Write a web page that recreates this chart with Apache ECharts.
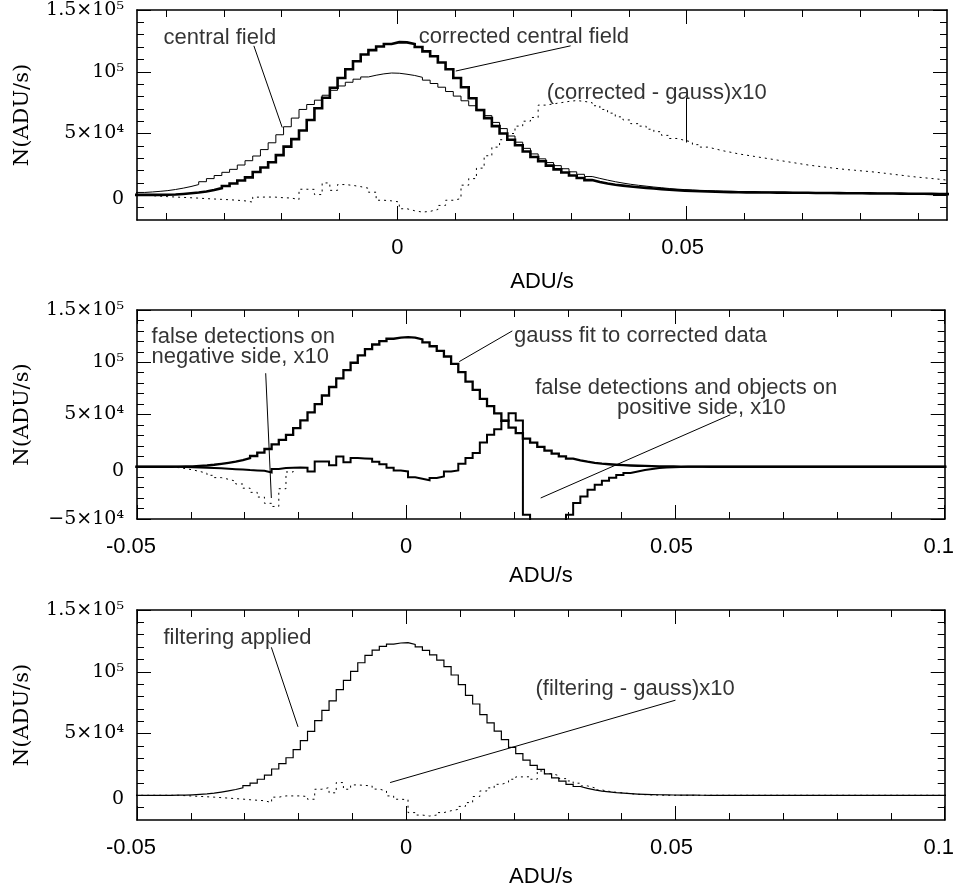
<!DOCTYPE html>
<html>
<head>
<meta charset="utf-8">
<script src="https://cdn.jsdelivr.net/npm/echarts@6/dist/echarts.min.js"></script>
<style>
html,body{margin:0;padding:0;background:#ffffff;}
#chart{width:957px;height:894px;}
</style>
</head>
<body>
<div id="chart"></div>
<script>
// ---------- histogram binning (105 bins of width 0.14/105 over -0.045..0.095, extended by 4 bins left) ----------
const binWidth = 0.14 / 105;
const binStart = -0.045 - 4 * binWidth;

// ---------- panel 1 : central field ----------
const centralField = [
  2300, 2300, 2300, 2300, 2300, 2700, 3200, 3800, 4700, 5800,
  7100, 8700, 11000, 13500, 16000, 18600, 21000, 24500, 28000, 31800,
  37000, 42500, 49000, 55500, 62500, 69500, 73500, 77000, 81000, 85000,
  88500, 91500, 94000, 95800, 97200, 98300, 99000, 98800, 98000, 97000,
  95500, 93200, 90500, 87500, 84000, 80300, 76500, 72500, 68500, 64500,
  59000, 54000, 48000, 43000, 38000, 33500, 29500, 26500, 24000, 21500,
  19000, 17000, 15200, 13700, 12300, 11000, 9900, 8900, 8100, 7400,
  6700, 6100, 5500, 5000, 4600, 4300, 4000, 3800, 3600, 3400,
  3200, 3050, 2900, 2800, 2700, 2600, 2500, 2400, 2300, 2250,
  2200, 2150, 2100, 2050, 2000, 1950, 1900, 1850, 1800, 1750,
  1700, 1650, 1600, 1500, 1450, 1400, 1300, 1200, 1100, 1000,
  900, 850, 800
];
const correctedCentralField = [
  300, 300, 300, 300, 300, 300, 350, 450, 700, 1100,
  1600, 2200, 3000, 4300, 5800, 7500, 9500, 12000, 14500, 18800,
  22500, 26800, 32500, 39400, 45500, 52500, 61000, 70500, 79000, 87000,
  95000, 102000, 108500, 114000, 117500, 120500, 122500, 124000, 123800, 122500,
  120000, 116500, 112500, 107500, 102000, 95000, 87500, 78500, 69000, 62500,
  56000, 50000, 45000, 40500, 35500, 31000, 27500, 24000, 21000, 18500,
  16000, 14000, 12300, 10800, 9600, 8600, 7800, 7100, 6500, 6000,
  5500, 5000, 4500, 4100, 3800, 3500, 3300, 3100, 2900, 2700,
  2600, 2500, 2400, 2350, 2300, 2250, 2200, 2150, 2100, 2050,
  2000, 1900, 1850, 1800, 1750, 1700, 1650, 1600, 1550, 1500,
  1450, 1400, 1350, 1300, 1250, 1200, 1150, 1100, 1000, 900,
  850, 800, 800
];
const correctedMinusGaussX10 = [
  0, 0, 0, 0, 0, -300, -700, -1100, -1400, -1700,
  -2000, -2300, -2700, -3000, -3300, -3600, -4000, -4500, -5500, -1500,
  -1400, -1500, -2000, -2200, -3500, 4900, 4800, 600, 10000, 4000,
  8700, 8000, 7000, 5700, 2500, -4000, -4500, -5400, -10900, -12500,
  -13600, -13000, -11500, -8200, -4000, -2700, 8200, 13500, 22000, 32000,
  39000, 45000, 50000, 56000, 60000, 63000, 73000, 74000, 75000, 76000,
  76700, 76000, 75000, 72500, 69500, 66500, 63500, 61000, 58000, 56000,
  53500, 51500, 48500, 46000, 44500, 43000, 41000, 39000, 37500, 36000,
  34800, 33500, 32500, 31500, 30500, 29500, 28500, 27500, 26500, 25500,
  24500, 23700, 23000, 22200, 21500, 20800, 20300, 19700, 19200, 18500,
  17800, 17000, 16300, 15500, 14800, 14200, 13600, 13000, 12300, 12000,
  11800, 11500, 11200
];

// ---------- panel 2 : gauss fit and false detections ----------
const gaussFit = [
  0, 0, 0, 0, 0, 100, 250, 450, 800, 1200,
  1900, 2800, 3800, 4900, 6300, 8200, 10300, 13500, 17000, 21500,
  25800, 30500, 37000, 44300, 52000, 60000, 68200, 76300, 84500, 92500,
  99500, 106500, 112500, 117000, 120300, 122500, 123600, 124000, 123500, 121800,
  119000, 115300, 110800, 105500, 98500, 90500, 81500, 73500, 65000, 58000,
  51000, 44000, 37500, 32200, 27000, 23000, 19000, 15500, 12500, 10000,
  7800, 6100, 4800, 3800, 3000, 2400, 1900, 1500, 1200, 950,
  750, 600, 450, 330, 240, 170, 110, 60, 30, 0,
  0, 0, 0, 0, 0, 0, 0, 0, 0, 0,
  0, 0, 0, 0, 0, 0, 0, 0, 0, 0,
  0, 0, 0, 0, 0, 0, 0, 0, 0, 0,
  0, 0, 0
];
const falseDetectionsPositiveX10 = [
  0, 0, 0, 0, 0, -100, -300, -500, -700, -900,
  -1200, -1500, -1900, -2300, -2700, -3200, -3500, -3800, -5400, -2200,
  -1200, -900, -700, -900, -4500, 5000, 5000, 1500, 9900, 4200,
  8300, 8000, 7600, 4800, 2500, -1000, -3500, -4500, -10000, -11500,
  -13000, -10800, -9200, -4500, -3500, 2900, 8300, 13100, 23200, 30600,
  36000, 44000, 51300, 44200, -46000, -80000, -95000, -90000, -75000, -60000,
  -46000, -34700, -28400, -22000, -17200, -13500, -10500, -8000, -6000, -4500,
  -3200, -2200, -1300, -800, -400, -200, -100, 0, 0, 0,
  0, 0, 0, 0, 0, 0, 0, 0, 0, 0,
  0, 0, 0, 0, 0, 0, 0, 0, 0, 0,
  0, 0, 0, 0, 0, 0, 0, 0, 0, 0,
  0, 0, 0
];
const falseDetectionsNegativeX10 = [
  0, 0, 0, 0, -300, -800, -1800, -3000, -4500, -6200,
  -8200, -10400, -12000, -13800, -16500, -20500, -24500, -29000, -35000, -38000,
  -21000, -5000, -700
];

// ---------- panel 3 : filtering ----------
const filteringApplied = [
  0, 0, 0, 0, 0, 100, 200, 400, 700, 1100,
  1700, 2600, 3600, 4700, 6000, 7800, 9900, 13000, 16400, 21300,
  25700, 30400, 36900, 44200, 51700, 60500, 68800, 76500, 85500, 93000,
  100300, 107300, 113300, 117500, 120600, 122400, 123300, 123600, 122100, 120200,
  117300, 113700, 109400, 104200, 97400, 89600, 80900, 73900, 65300, 58600,
  51900, 45100, 38800, 33700, 28500, 24300, 21000, 17300, 14100, 11400,
  8900, 7100, 5600, 4400, 3400, 2700, 2100, 1700, 1300, 1000,
  800, 600, 450, 330, 240, 170, 110, 60, 30, 0,
  0, 0, 0, 0, 0, 0, 0, 0, 0, 0,
  0, 0, 0, 0, 0, 0, 0, 0, 0, 0,
  0, 0, 0, 0, 0, 0, 0, 0, 0, 0,
  0, 0, 0
];
const filteringMinusGaussX10 = [
  0, 0, 0, 0, 0, 0, -300, -600, -900, -1200,
  -1500, -1900, -2300, -2700, -3100, -3600, -4000, -4400, -5900, -1500,
  -500, -500, -500, -1000, -3200, 4900, 6200, 2000, 10300, 4900,
  8400, 8000, 7600, 5000, 3500, -500, -3200, -3500, -14000, -16000,
  -16800, -16000, -14000, -12500, -11400, -9000, -5900, -1000, 3500, 6000,
  8900, 10500, 13000, 14900, 15000, 13000, 19700, 17500, 16000, 13500,
  11600, 9800, 7600, 6000, 4300, 3200, 2400, 1900, 1300, 800,
  500, 300, 150, 0, 0, 0, 0, 0, 0, 0,
  0, 0, 0, 0, 0, 0, 0, 0, 0, 0,
  0, 0, 0, 0, 0, 0, 0, 0, 0, 0,
  0, 0, 0, 0, 0, 0, 0, 0, 0, 0,
  0, 0, 0
];

// ---------- ticks and tick labels ----------
const xMajorTicksTop = [0, 0.05];
const xMajorTicks = [-0.05, 0, 0.05, 0.1];
const xMinorTicks = [-0.04, -0.03, -0.02, -0.01, 0.01, 0.02, 0.03, 0.04, 0.06, 0.07, 0.08, 0.09];
const yMajorTicks = [0, 50000, 100000, 150000];
const yMajorTicksMid = [-50000, 0, 50000, 100000, 150000];
const yMinorTicks = [-10000, 10000, 20000, 30000, 40000, 60000, 70000, 80000, 90000, 110000, 120000, 130000, 140000];
const yMinorTicksMid = [-40000, -30000, -20000, -10000, 10000, 20000, 30000, 40000, 60000, 70000, 80000, 90000, 110000, 120000, 130000, 140000];
const xTickText = { '-0.05': '-0.05', '0': '0', '0.05': '0.05', '0.1': '0.1' };
const yTickText = { '-50000': '\u22125\u00d710\u2074', '0': '0', '50000': '5\u00d710\u2074', '100000': '10\u2075', '150000': '1.5\u00d710\u2075' };
const xTitle = 'ADU/s';
const yTitle = 'N(ADU/s)';

// ---------- annotations (data coordinates) ----------
const annotations = [
  { panel: 0, texts: [
      { t: 'central field', x: -0.0404, y: 127000, align: 'left' },
      { t: 'corrected central field', x: 0.0037, y: 127800, align: 'left' },
      { t: '(corrected - gauss)x10', x: 0.0258, y: 83000, align: 'left' } ],
    lines: [ [[-0.0248, 121000], [-0.0199, 54900]], [[0.0101, 100600], [0.02995, 121000]], [[0.05, 78900], [0.05, 42700]] ] },
  { panel: 1, texts: [
      { t: 'false detections on', x: -0.0473, y: 124500, align: 'left' },
      { t: 'negative side, x10', x: -0.0473, y: 105400, align: 'left' },
      { t: 'gauss fit to corrected data', x: 0.0200, y: 125500, align: 'left' },
      { t: 'false detections and objects on', x: 0.0520, y: 75800, align: 'center' },
      { t: 'positive side, x10', x: 0.0548, y: 56000, align: 'center' } ],
    lines: [ [[-0.0261, 89500], [-0.02505, -29900]], [[0.00984, 100600], [0.0197, 130000]], [[0.02497, -29900], [0.06017, 49700]] ] },
  { panel: 2, texts: [
      { t: 'filtering applied', x: -0.0451, y: 127300, align: 'left' },
      { t: '(filtering - gauss)x10', x: 0.0240, y: 86000, align: 'left' } ],
    lines: [ [[-0.02505, 119800], [-0.0201, 55400]], [[-0.003, 10300], [0.05, 77000]] ] }
];

// ---------- styling / layout ----------
const SANS = '"Liberation Sans", Arial, Helvetica, sans-serif';
const SERIF = '"DejaVu Serif", "Liberation Serif", serif';
const panels = [
  { top: 10, height: 210, xMin: -0.045, xMax: 0.095, yMin: -20000, yMax: 150000,
    xMajor: xMajorTicksTop, xMinor: xMinorTicks, yMajor: yMajorTicks, yMinor: yMinorTicks, nameGap: 51 },
  { top: 310, height: 209, xMin: -0.05, xMax: 0.1, yMin: -50000, yMax: 150000,
    xMajor: xMajorTicks, xMinor: xMinorTicks, yMajor: yMajorTicksMid, yMinor: yMinorTicksMid, nameGap: 46 },
  { top: 610, height: 210, xMin: -0.05, xMax: 0.1, yMin: -20000, yMax: 150000,
    xMajor: xMajorTicks, xMinor: xMinorTicks, yMajor: yMajorTicks, yMinor: yMinorTicks, nameGap: 46 }
];
const xLabelShift = { '-0.05': 'b', '0': 'c', '0.05': 'a', '0.1': 'b' };

function histPoints(counts) {
  const pts = counts.map((v, k) => [binStart + k * binWidth, v]);
  pts.push([binStart + counts.length * binWidth, counts[counts.length - 1]]);
  return pts;
}

const grid = [], xAxis = [], yAxis = [], series = [];
const mainX = [], mainY = [];

panels.forEach((p, gi) => {
  grid.push({ left: 137, width: 810, top: p.top, height: p.height, containLabel: false });
  const lineStyle = { color: '#000', width: 1.6 };
  const tickStyle = { color: '#000', width: 1 };
  const xBase = (pos, ticks, len, showLine) => ({
    type: 'value', gridIndex: gi, position: pos, min: p.xMin, max: p.xMax,
    axisLine: { show: showLine, onZero: false, lineStyle },
    axisTick: { show: true, inside: true, length: len, customValues: ticks, lineStyle: tickStyle },
    axisLabel: { show: false }, splitLine: { show: false }, minorTick: { show: false }
  });
  const yBase = (pos, ticks, len, showLine) => ({
    type: 'value', gridIndex: gi, position: pos, min: p.yMin, max: p.yMax,
    axisLine: { show: showLine, onZero: false, lineStyle },
    axisTick: { show: true, inside: true, length: len, customValues: ticks, lineStyle: tickStyle },
    axisLabel: { show: false }, splitLine: { show: false }, minorTick: { show: false }
  });
  // bottom main x axis (labels, title)
  const xm = xBase('bottom', p.xMajor, 14, true);
  xm.axisLabel = {
    show: true, customValues: gi === 0 ? xMajorTicksTop : xMajorTicks, margin: 17,
    fontFamily: SANS, fontSize: 22, color: '#000',
    formatter: v => '{' + (xLabelShift[String(v)] || 'c') + '|' + (xTickText[String(v)] || String(v)) + '}',
    rich: {
      a: { fontFamily: SANS, fontSize: 22, color: '#000', padding: [0, 8, 0, 0] },
      b: { fontFamily: SANS, fontSize: 22, color: '#000', padding: [0, 12, 0, 0] },
      c: { fontFamily: SANS, fontSize: 22, color: '#000' }
    }
  };
  xm.name = xTitle; xm.nameLocation = 'middle'; xm.nameGap = p.nameGap;
  xm.nameTextStyle = { fontFamily: SANS, fontSize: 22, color: '#000' };
  mainX.push(xAxis.length); xAxis.push(xm);
  xAxis.push(xBase('bottom', p.xMinor, 7, false));
  xAxis.push(xBase('top', p.xMajor, 14, true));
  xAxis.push(xBase('top', p.xMinor, 7, false));
  // left main y axis (labels, title)
  const ym = yBase('left', p.yMajor, 14, true);
  ym.axisLabel = {
    show: true, customValues: p.yMajor, margin: 13,
    fontFamily: SERIF, fontSize: 19, color: '#000',
    formatter: v => v === 0 ? '{z|0}' : '{n|' + yTickText[String(v)] + '}',
    rich: {
      z: { fontFamily: SERIF, fontSize: 19, color: '#000', padding: [8, 0, 0, 0] },
      n: { fontFamily: SERIF, fontSize: 19, color: '#000' }
    }
  };
  ym.name = yTitle; ym.nameLocation = 'middle'; ym.nameGap = 104;
  ym.nameTextStyle = { fontFamily: SERIF, fontSize: 21, color: '#000' };
  mainY.push(yAxis.length); yAxis.push(ym);
  yAxis.push(yBase('left', p.yMinor, 7, false));
  yAxis.push(yBase('right', p.yMajor, 14, true));
  yAxis.push(yBase('right', p.yMinor, 7, false));
});

function stepSeries(name, counts, gi, width, dashed, z) {
  return {
    type: 'line', name, xAxisIndex: mainX[gi], yAxisIndex: mainY[gi],
    data: histPoints(counts), step: 'end', symbol: 'none', showSymbol: false,
    clip: true, silent: true, animation: false, z: z,
    lineStyle: { color: '#000', width: width, type: dashed ? [2, 4] : 'solid', cap: 'butt', join: 'miter' },
    emphasis: { disabled: true }
  };
}

series.push(stepSeries('(corrected - gauss)x10', correctedMinusGaussX10, 0, 1, true, 2));
series.push(stepSeries('central field', centralField, 0, 1, false, 3));
series.push(stepSeries('corrected central field', correctedCentralField, 0, 2.6, false, 4));

series.push(stepSeries('false detections on negative side, x10', falseDetectionsNegativeX10, 1, 1, true, 2));
series.push(stepSeries('false detections and objects on positive side, x10', falseDetectionsPositiveX10, 1, 2, false, 3));
series.push(stepSeries('gauss fit to corrected data', gaussFit, 1, 2.3, false, 4));

series.push(stepSeries('(filtering - gauss)x10', filteringMinusGaussX10, 2, 1, true, 2));
series.push(stepSeries('filtering applied', filteringApplied, 2, 1.2, false, 3));

annotations.forEach(a => {
  series.push({
    type: 'scatter', xAxisIndex: mainX[a.panel], yAxisIndex: mainY[a.panel],
    symbolSize: 0, silent: true, animation: false, clip: false, z: 6,
    data: a.texts.map(t => ({
      value: [t.x, t.y],
      label: { show: true, position: 'inside', align: t.align, verticalAlign: 'middle',
               formatter: t.t, fontFamily: SANS, fontSize: 22, color: '#000' }
    })),
    markLine: {
      silent: true, animation: false, symbol: ['none', 'none'],
      label: { show: false }, emphasis: { disabled: true },
      lineStyle: { color: '#000', width: 1, type: 'solid' },
      data: a.lines.map(l => [{ coord: l[0] }, { coord: l[1] }])
    }
  });
});

const chart = echarts.init(document.getElementById('chart'), null, { renderer: 'canvas' });
chart.setOption({
  backgroundColor: '#ffffff',
  animation: false,
  grid, xAxis, yAxis, series
});
</script>
</body>
</html>
